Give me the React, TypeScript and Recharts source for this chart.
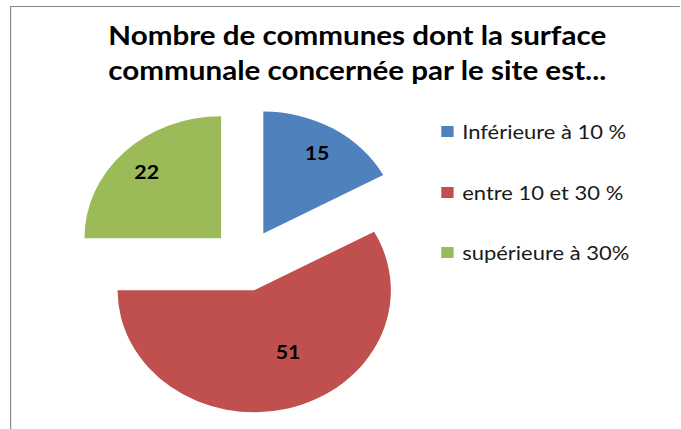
import { PieChart, Pie, Cell, Legend, Sector } from 'recharts'

// Values
const categories = ['Inférieure à 10 %', 'entre 10 et 30 %', 'supérieure à 30%']
const counts = [15, 51, 22]
const colors = ['#4F81BD', '#C0504D', '#9BBB59']
const titleLines = ['Nombre de communes dont la surface', 'communale concernée par le site est...']

const data = categories.map((name, i) => ({ name, value: counts[i] }))

// the reference is stretched horizontally, so draw narrow and scale in x
const STRETCH = 1.12
const W = 607
const H = 429
const RADIAN = Math.PI / 180
const EXPLODE = 31
const FONT = 'Lato, Carlito, Calibri, sans-serif'

const ExplodedSector = (props: any) => {
    const dx = EXPLODE * Math.cos(-props.midAngle * RADIAN)
    const dy = EXPLODE * Math.sin(-props.midAngle * RADIAN)
    return <Sector {...props} cx={props.cx + dx} cy={props.cy + dy} />
}

const renderLabel = (p: any) => {
    const big = p.percent > 0.5
    const k = big ? 0.56 : 0.77
    const a = big ? p.midAngle + 12 : p.midAngle
    const ox = p.cx + EXPLODE * Math.cos(-p.midAngle * RADIAN)
    const oy = p.cy + EXPLODE * Math.sin(-p.midAngle * RADIAN)
    const x = ox + p.outerRadius * k * Math.cos(-a * RADIAN)
    const y = oy + p.outerRadius * k * Math.sin(-a * RADIAN)
    return (
        <text x={x} y={y} textAnchor="middle" dominantBaseline="central"
            style={{ fontFamily: FONT, fontSize: 19, fontWeight: 700, fill: '#000' }}>
            {p.value}
        </text>
    )
}

const renderLegend = (props: any) => (
    <div>
        {(props.payload || []).map((entry: any, i: number) => (
            <div key={i} style={{ display: 'flex', alignItems: 'center', height: 60.8 }}>
                <div style={{ width: 11, height: 11, background: entry.color || colors[i], marginRight: 8 }} />
                <span style={{ fontFamily: FONT, fontSize: 19.6, color: '#1a1a1a', whiteSpace: 'nowrap' }}>{entry.value}</span>
            </div>
        ))}
    </div>
)

export default function App() {
    return (
        <>
            <style>{'html,body{margin:0;overflow:hidden;background:#fff}'}</style>
            <div style={{
                position: 'absolute', left: 0, top: 0, width: W, height: H,
                transform: `scaleX(${STRETCH})`, transformOrigin: '0 0', background: '#fff'
            }}>
                <div style={{
                    position: 'absolute', left: 9, top: 6, right: 0, bottom: 0,
                    borderTop: '1.5px solid #888', borderLeft: '1.5px solid #888'
                }} />
                <div style={{
                    position: 'absolute', left: 0, width: 638, top: 18, textAlign: 'center',
                    fontFamily: FONT, fontWeight: 700, fontSize: 26.4, lineHeight: '35px', color: '#000'
                }}>
                    {titleLines.map((t) => <div key={t}>{t}</div>)}
                </div>
                <div style={{ position: 'absolute', left: 0, top: 0 }}>
                    <PieChart width={W} height={H} margin={{ top: 0, right: 0, bottom: 0, left: 0 }}>
                        <Pie data={data} dataKey="value" nameKey="name" cx={219.3} cy={260.2}
                            outerRadius={122} startAngle={90} endAngle={-270}
                            stroke="none" shape={ExplodedSector}
                            label={renderLabel} labelLine={false} isAnimationActive={false}>
                            {data.map((d, i) => <Cell key={d.name} fill={colors[i]} />)}
                        </Pie>
                        <Legend layout="vertical" align="right" verticalAlign="top" content={renderLegend}
                            wrapperStyle={{ position: 'absolute', left: 393.7, top: 101, width: 210 }} />
                    </PieChart>
                </div>
            </div>
        </>
    )
}
